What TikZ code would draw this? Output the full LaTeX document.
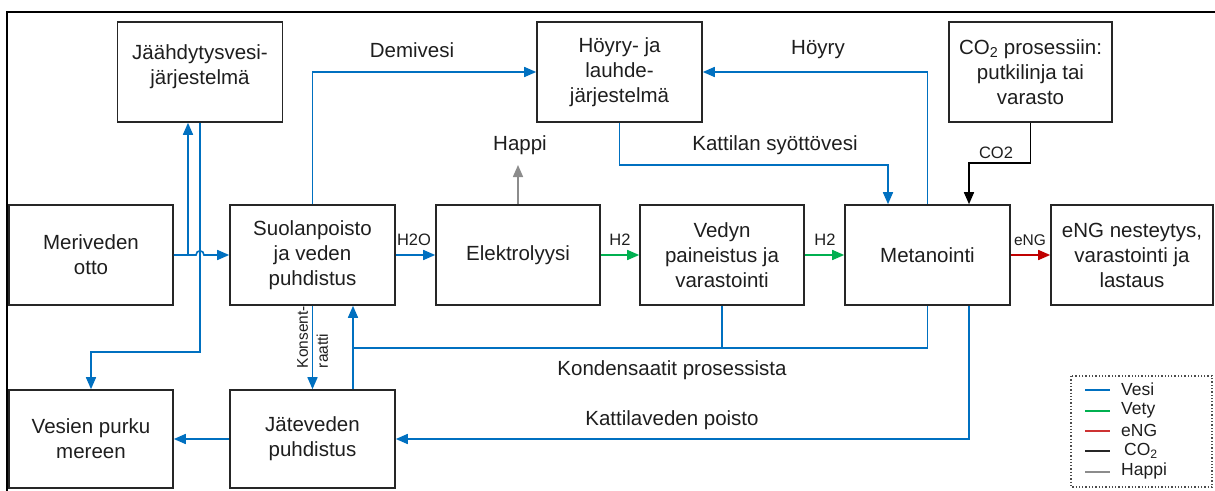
\documentclass[tikz,border=0pt]{standalone}
\usepackage{fontspec}
\setmainfont{Liberation Sans}
\usetikzlibrary{arrows.meta}
\definecolor{wblue}{RGB}{0,112,192}
\definecolor{hgreen}{RGB}{0,176,80}
\definecolor{ered}{RGB}{192,0,0}
\definecolor{ogray}{RGB}{140,140,140}
\definecolor{txt}{RGB}{30,30,30}
\tikzset{
  box/.style={draw=black!85, line width=1.6pt, minimum width=165pt, minimum height=100pt,
    align=center, inner sep=0pt, text=txt, font=\fontsize{20.5}{25}\selectfont},
  lbl/.style={text=txt, font=\fontsize{20.5}{24}\selectfont, inner sep=0pt},
  slbl/.style={text=txt, font=\fontsize{16.5}{20}\selectfont, inner sep=0pt},
  conn/.style={line width=1.6pt, -{Triangle[length=12pt,width=10pt]}},
  wline/.style={line width=1.6pt, draw=wblue},
  w/.style={conn, draw=wblue},
  hg/.style={conn, draw=hgreen},
  er/.style={conn, draw=ered},
  kb/.style={conn, draw=black},
  og/.style={conn, draw=ogray},
}
\begin{document}
\begin{tikzpicture}[x=1pt,y=-1pt]
\useasboundingbox (0,0) rectangle (1215,490);
\begin{scope}
\clip (0,0) rectangle (1215,490);
\draw[line width=2pt] (7,12) rectangle (1230,505);
\end{scope}

% boxes
\node[box] (jaah) at (200,72) {Jäähdytysvesi-\\järjestelmä\\[-11pt]\mbox{}};
\node[box] (hoyry) at (619.5,72) {Höyry- ja\\lauhde-\\järjestelmä};
\node[box, minimum width=163pt] (co2) at (1030.5,72) {CO\textsubscript{2} prosessiin:\\putkilinja tai\\varasto};
\node[box, minimum width=164pt] (meri) at (91,255) {Meriveden\\otto};
\node[box] (suola) at (312.5,255) {Suolanpoisto\\ja veden\\puhdistus};
\node[box, minimum width=164pt] (elek) at (518,255) {Elektrolyysi};
\node[box, minimum width=164pt] (vedyn) at (722,255) {Vedyn\\paineistus ja\\varastointi};
\node[box] (metan) at (927.5,255) {Metanointi};
\node[box, minimum width=162pt] (eng) at (1132,255) {eNG nesteytys,\\varastointi ja\\lastaus};
\node[box, minimum width=164pt, minimum height=98pt] (purku) at (91,439) {Vesien purku\\mereen};
\node[box, minimum height=98pt] (jate) at (312.5,439) {Jäteveden\\puhdistus};

% helper coordinates
\coordinate (br) at (188,255);
\coordinate (jr) at (200,352);
\coordinate (kx) at (353,348);
\coordinate (kp) at (969,440);
\coordinate (ks) at (888,165);
\coordinate (cc) at (969,163);
\coordinate (hp) at (518,165);

% seawater intake with hop
\draw[w] (meri.east) -- (196,255) .. controls (196,249.5) and (204,249.5) .. (204,255) -- (suola.west);
\draw[w] (br) -- (jaah.south -| br);
\draw[w] (jaah.south) -- (jr) -| (purku.north);

% demivesi
\draw[w] (suola.north) |- (hoyry.west);
\node[lbl] at (412,50) {Demivesi};
% hoyry
\draw[w] (metan.north) |- (hoyry.east);
\node[lbl] at (818,50) {Höyry};
% kattilan syottovesi
\draw[w] (hoyry.south) |- (ks) -- (metan.north -| ks);
\node[lbl] at (775,145) {Kattilan syöttövesi};
% CO2
\draw[kb] (co2.south) |- (cc) -- (metan.north -| cc);
\node[slbl] at (996,153) {CO2};
% happi
\draw[og] (elek.north) -- (hp);
\node[lbl] at (520,145) {Happi};

% main line
\draw[w] (suola.east) -- (elek.west);
\node[slbl] at (414,240) {H2O};
\draw[hg] (elek.east) -- (vedyn.west);
\node[slbl] at (620,240) {H2};
\draw[hg] (vedyn.east) -- (metan.west);
\node[slbl] at (825,240) {H2};
\draw[er] (metan.east) -- (eng.west);
\node[slbl, font=\fontsize{15.5}{18}\selectfont] at (1030,240) {eNG};

% konsentraatti
\draw[w] (suola.south) -- (jate.north);
\node[text=txt, font=\fontsize{15.5}{20}\selectfont, rotate=90, align=left, inner sep=0pt] at (312.5,337) {Konsent-\\raatti};

% kondensaatit
\draw[wline] (metan.south) |- (kx);
\draw[wline] (vedyn.south) -- (vedyn.south |- kx);
\draw[w] (jate.north -| kx) -- (suola.south -| kx);
\node[lbl] at (672,370) {Kondensaatit prosessista};

% kattilaveden poisto
\draw[w] (metan.south -| kp) |- (jate.east);
\node[lbl] at (672,420) {Kattilaveden poisto};

% to sea
\draw[w] (jate.west) -- (purku.east);

% legend
\draw[black!70, line width=1.3pt, dotted] (1071,376) rectangle (1212,487);
\begin{scope}[line width=1.8pt]
\draw[wblue] (1085,390) -- (1110,390);
\draw[hgreen] (1085,411) -- (1110,411);
\draw[ered!80] (1085,431) -- (1110,431);
\draw[black!85] (1085,451) -- (1110,451);
\draw[ogray] (1085,472) -- (1110,472);
\end{scope}
\begin{scope}[every node/.style={text=txt, font=\fontsize{17.5}{20}\selectfont, anchor=west, inner sep=0pt}]
\node at (1121,389) {Vesi};
\node at (1121,410) {Vety};
\node at (1121,430) {eNG};
\node at (1124,451) {CO\textsubscript{2}};
\node at (1121,471) {Happi};
\end{scope}
\end{tikzpicture}
\end{document}
